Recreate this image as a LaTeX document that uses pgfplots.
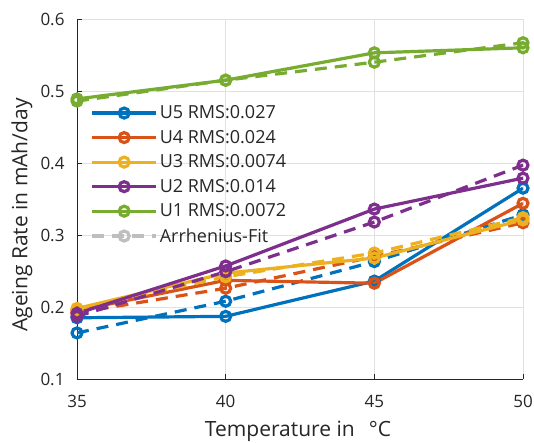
\documentclass[border=0pt]{standalone}
\usepackage{fontspec}
\setmainfont{Open Sans}
\usepackage{pgfplots}
\pgfplotsset{compat=1.18}
\definecolor{c1}{RGB}{0,114,189}
\definecolor{c2}{RGB}{217,83,25}
\definecolor{c3}{RGB}{237,177,32}
\definecolor{c4}{RGB}{126,47,142}
\definecolor{c5}{RGB}{119,172,48}
\definecolor{cg}{RGB}{190,190,190}
\definecolor{gridc}{RGB}{225,225,225}
\definecolor{axc}{RGB}{38,38,38}
\begin{document}
\begin{tikzpicture}
\begin{axis}[
  name=ax,
  scale only axis, width=446bp, height=360bp,
  xmin=35, xmax=50, ymin=0.1, ymax=0.6,
  xtick={35,40,45,50}, ytick={0.1,0.2,0.3,0.4,0.5,0.6},
  axis lines*=left, axis line style={axc, line width=0.8bp},
  tick style={axc, line width=0.8bp}, tick align=inside, major tick length=5bp,
  grid=major, major grid style={gridc, line width=0.8bp},
  /pgf/number format/assume math mode=true,
  yticklabel style={/pgf/number format/fixed, /pgf/number format/precision=1, /pgf/number format/fixed zerofill, xshift=-9bp},
  xticklabel style={yshift=-13bp},
  ticklabel style={font=\fontsize{17bp}{20bp}\selectfont, text=axc},
  xlabel={Temperature in\hspace{14bp}°C}, ylabel={Ageing Rate in mAh/day},
  label style={font=\fontsize{21bp}{24bp}\selectfont, text=axc},
  xlabel style={at={(0.5,0)}, anchor=center, yshift=-52bp, xshift=-2bp},
  ylabel style={at={(0,0.5)}, anchor=center, yshift=55bp, xshift=-16bp},
  legend style={draw=none, fill=none, at={(0.03,0.765)}, anchor=north west, font=\fontsize{18bp}{22bp}\selectfont, row sep=6bp, text=axc, inner sep=0bp},
  legend cell align=left,
  legend image code/.code={\draw[#1, mark repeat=2, mark phase=2] plot coordinates {(0bp,0bp) (32bp,0bp) (64bp,0bp)};},
  every axis plot/.append style={line width=3.2bp, mark=o, mark size=5bp, mark options={solid}},
]
\addplot[c1] coordinates {(35,0.185) (40,0.187) (45,0.236) (50,0.365)};
\addlegendentry{U5 RMS:0.027}
\addplot[c1, dash pattern=on 12bp off 8bp, forget plot] coordinates {(35,0.164) (40,0.208) (45,0.263) (50,0.328)};
\addplot[c2] coordinates {(35,0.195) (40,0.237) (45,0.233) (50,0.344)};
\addlegendentry{U4 RMS:0.024}
\addplot[c2, dash pattern=on 12bp off 8bp, forget plot] coordinates {(35,0.192) (40,0.226) (45,0.270) (50,0.317)};
\addplot[c3] coordinates {(35,0.198) (40,0.247) (45,0.268) (50,0.321)};
\addlegendentry{U3 RMS:0.0074}
\addplot[c3, dash pattern=on 12bp off 8bp, forget plot] coordinates {(35,0.197) (40,0.242) (45,0.275) (50,0.324)};
\addplot[c4] coordinates {(35,0.191) (40,0.257) (45,0.336) (50,0.379)};
\addlegendentry{U2 RMS:0.014}
\addplot[c4, dash pattern=on 12bp off 8bp, forget plot] coordinates {(35,0.187) (40,0.249) (45,0.318) (50,0.397)};
\addplot[c5] coordinates {(35,0.489) (40,0.515) (45,0.553) (50,0.560)};
\addlegendentry{U1 RMS:0.0072}
\addplot[c5, dash pattern=on 12bp off 8bp, forget plot] coordinates {(35,0.486) (40,0.515) (45,0.540) (50,0.567)};
\addlegendimage{cg, line width=3.2bp, mark=o, mark size=5bp, mark options={solid}, dash pattern=on 12bp off 8bp}
\addlegendentry{Arrhenius-Fit}
\end{axis}
\pgfresetboundingbox
\path[use as bounding box] ([shift={(-77bp,-64bp)}]ax.south west) rectangle ([shift={(11bp,19bp)}]ax.north east);
\end{tikzpicture}
\end{document}
